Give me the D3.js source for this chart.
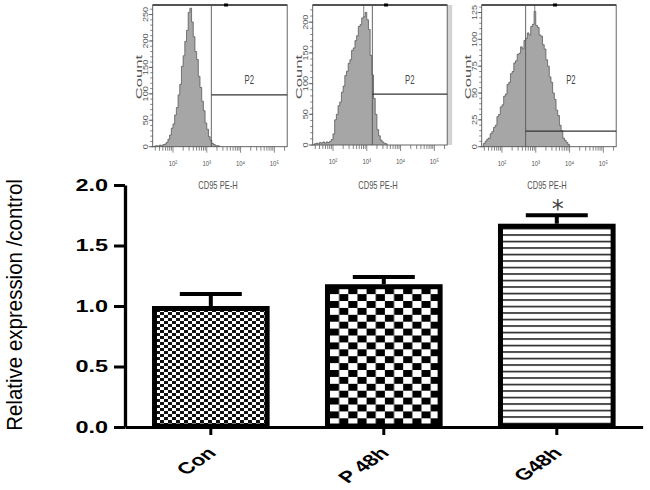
<!DOCTYPE html>
<html><head><meta charset="utf-8">
<script src="https://cdn.jsdelivr.net/npm/d3@7"></script>
<style>body{margin:0;background:#fff} svg{display:block}</style>
</head><body><svg id="c" width="650" height="490"></svg>
<script>
// ---------- bar chart data ----------
const categories = ["Con", "P 48h", "G48h"];
const means = [1.0, 1.18, 1.68];
const errors = [0.10, 0.06, 0.07];
const significance = ["", "", "*"];
const yTicks = [0, 0.5, 1.0, 1.5, 2.0];
const yLabel = "Relative expression /control";

// ---------- flow cytometry histograms (counts per 0.05-decade bin, starting at 10^1.4) ----------
const histStartLog = 1.4;
const histStepLog = 0.05;
const hist1 = [0,1,2,1,3,2,4,5,8,14,22,35,43,60,74,98,118,152,172,199,220,254,262,236,208,180,165,133,112,86,68,45,33,19,12,6,4,2,2,1,0];
const hist2 = [0,2,3,2,4,3,5,3,5,4,6,9,18,41,50,64,70,86,96,113,120,133,139,154,158,170,178,193,196,207,209,216,204,188,146,114,76,50,25,15,8,5,3,2,0];
const hist3 = [0,3,5,7,8,12,14,18,20,28,30,37,39,47,49,58,60,68,70,78,80,86,87,93,91,99,101,106,104,112,114,126,113,111,104,103,95,91,81,75,65,60,50,44,34,29,20,15,8,6,4,2,0];
const histYMax = [268, 228, 132];
const histYTicks = [[0,50,100,150,200,250],[0,50,100,150,200],[0,25,50,75,100,125]];
const histYMinor = [10, 10, 5];
const gateLog = [3.135, 3.165, 2.70];
const gateCount = [98, 83, 14.5];
const spikeLog = [null, 2.91, 2.97];
const markerLog = 3.57;
const xDecades = [2, 3, 4, 5];
const xDecadeLabels = ["10²", "10³", "10⁴", "10⁵"];
const histXLabel = "CD95 PE-H";
const histYLabel = "Count";
const gateName = "P2";

const FONT = "'Liberation Sans', Arial, Helvetica, sans-serif";
const svg = d3.select("#c");
svg.append("rect").attr("width", 650).attr("height", 490).attr("fill", "#fff");

// ---------- histograms ----------
const hists = [hist1, hist2, hist3];
const panelLayout = [
  {left: 152.7, bottom: 146.7, strip: false},
  {left: 312.7, bottom: 145.0, strip: true},
  {left: 481.7, bottom: 146.7, strip: false}
];
const panelTop = 5, panelW = 134.5;

hists.forEach((data, i) => {
  const L = panelLayout[i];
  const g = svg.append("g");
  const px = d3.scaleLog().domain([10 ** 1.4, 10 ** 5.38]).range([L.left, L.left + panelW]);
  const py = d3.scaleLinear().domain([0, histYMax[i]]).range([L.bottom, panelTop]);
  const pts = data.map((c, j) => [histStartLog + j * histStepLog, c]);

  if (L.strip) {
    g.append("rect").attr("x", L.left + panelW).attr("y", panelTop).attr("width", 5)
      .attr("height", L.bottom - panelTop).attr("fill", "#d4d4d4");
  }
  const area = d3.area().x(d => px(10 ** d[0])).y0(L.bottom).y1(d => py(d[1])).curve(d3.curveStepAfter);
  const line = d3.line().x(d => px(10 ** d[0])).y(d => py(d[1])).curve(d3.curveStepAfter);
  g.append("path").datum(pts).attr("d", area).attr("fill", "#a6a6a6");
  g.append("path").datum(pts).attr("d", line).attr("fill", "none").attr("stroke", "#4a4a4a").attr("stroke-width", 0.7);

  if (spikeLog[i] !== null) {
    const sx = px(10 ** spikeLog[i]);
    const idx = Math.round((spikeLog[i] - histStartLog) / histStepLog);
    g.append("line").attr("x1", sx).attr("x2", sx).attr("y1", panelTop).attr("y2", py(data[idx]))
      .attr("stroke", "#666").attr("stroke-width", 0.8);
  }

  // frame
  g.append("rect").attr("x", L.left).attr("y", panelTop).attr("width", panelW).attr("height", L.bottom - panelTop)
    .attr("fill", "none").attr("stroke", "#555").attr("stroke-width", 0.9);
  g.append("line").attr("x1", L.left).attr("x2", L.left + panelW).attr("y1", panelTop).attr("y2", panelTop)
    .attr("stroke", "#333").attr("stroke-width", 1.6);
  g.append("rect").attr("x", px(10 ** markerLog) - 2).attr("y", panelTop - 1.5).attr("width", 4).attr("height", 3).attr("fill", "#000");

  // gate
  const gx = px(10 ** gateLog[i]);
  g.append("line").attr("x1", gx).attr("x2", gx).attr("y1", panelTop).attr("y2", L.bottom)
    .attr("stroke", "#555").attr("stroke-width", 0.9);
  g.append("line").attr("x1", gx).attr("x2", L.left + panelW).attr("y1", py(gateCount[i])).attr("y2", py(gateCount[i]))
    .attr("stroke", "#333").attr("stroke-width", 1.3);
  g.append("text").attr("transform", `translate(${(gx + L.left + panelW) / 2},84) scale(0.62,1)`)
    .attr("text-anchor", "middle").attr("font-family", FONT).attr("font-size", 12.5).attr("fill", "#444")
    .text(gateName);

  // x axis log ticks
  const xt = [];
  for (let d = 1; d <= 5; d++) for (let m = 1; m <= 9; m++) {
    const v = m * 10 ** d;
    if (v >= 10 ** 1.4 && v <= 10 ** 5.38) xt.push({v, major: m === 1});
  }
  g.selectAll(null).data(xt).join("line")
    .attr("x1", d => px(d.v)).attr("x2", d => px(d.v))
    .attr("y1", L.bottom).attr("y2", d => L.bottom + (d.major ? 6 : 4))
    .attr("stroke", "#555").attr("stroke-width", 0.7);
  xDecades.forEach((d, k) => {
    g.append("text").attr("transform", `translate(${px(10 ** d)},${L.bottom + 19}) scale(0.75,1)`)
      .attr("text-anchor", "middle").attr("font-family", FONT).attr("fill", "#555").attr("font-size", 8)
      .text(xDecadeLabels[k]);
  });
  g.append("text").attr("transform", `translate(${L.left + panelW / 2 - 2},189) scale(0.72,1)`)
    .attr("text-anchor", "middle").attr("font-family", FONT).attr("font-size", 10.5).attr("fill", "#555")
    .text(histXLabel);

  // y axis ticks
  const yt = d3.range(0, histYMax[i] + 0.001, histYMinor[i]);
  g.selectAll(null).data(yt).join("line")
    .attr("x1", L.left - 2.5).attr("x2", L.left).attr("y1", d => py(d)).attr("y2", d => py(d))
    .attr("stroke", "#555").attr("stroke-width", 0.7);
  g.selectAll(null).data(histYTicks[i]).join("line")
    .attr("x1", L.left - 4).attr("x2", L.left).attr("y1", d => py(d)).attr("y2", d => py(d))
    .attr("stroke", "#555").attr("stroke-width", 0.8);
  g.selectAll(null).data(histYTicks[i]).join("text")
    .attr("transform", d => `translate(${L.left - 5},${py(d)}) rotate(-90) scale(1.3,1)`)
    .attr("text-anchor", "middle").attr("font-family", FONT).attr("font-size", 7).attr("fill", "#555")
    .text(d => d);
  g.append("text").attr("transform", `translate(${L.left - 11},${77}) rotate(-90) scale(1.75,1)`)
    .attr("text-anchor", "middle").attr("font-family", FONT).attr("font-size", 9.5).attr("fill", "#555")
    .text(histYLabel);
});

// ---------- bar chart ----------
const x0 = 125, x1 = 642.6, yTop = 185, yBot = 427;
const x = d3.scaleBand().domain(categories).range([x0, x1]).paddingInner(0.32).paddingOuter(0.156);
const y = d3.scaleLinear().domain([0, 2]).range([yBot, yTop]);
const bw = x.bandwidth();

const defs = svg.append("defs");
// fine checker
const p1 = defs.append("pattern").attr("id", "pCon").attr("patternUnits", "userSpaceOnUse")
  .attr("width", 8).attr("height", 6).attr("x", x("Con")).attr("y", y(means[0]));
p1.append("rect").attr("width", 8).attr("height", 6).attr("fill", "#fff");
p1.append("rect").attr("x", 0).attr("y", 0).attr("width", 4).attr("height", 3).attr("fill", "#111");
p1.append("rect").attr("x", 4).attr("y", 3).attr("width", 4).attr("height", 3).attr("fill", "#111");
// coarse checker
const p2 = defs.append("pattern").attr("id", "pP48").attr("patternUnits", "userSpaceOnUse")
  .attr("width", 18.3).attr("height", 13.8).attr("x", x("P 48h") + 5).attr("y", y(means[1]) + 3);
p2.append("rect").attr("width", 18.3).attr("height", 13.8).attr("fill", "#fff");
p2.append("rect").attr("x", 0).attr("y", 0).attr("width", 9.15).attr("height", 6.9).attr("fill", "#000");
p2.append("rect").attr("x", 9.15).attr("y", 6.9).attr("width", 9.15).attr("height", 6.9).attr("fill", "#000");
// horizontal lines
const p3 = defs.append("pattern").attr("id", "pG48").attr("patternUnits", "userSpaceOnUse")
  .attr("width", 10).attr("height", 6.5).attr("x", 0).attr("y", y(means[2]) + 4);
p3.append("rect").attr("width", 10).attr("height", 6.5).attr("fill", "#fff");
p3.append("rect").attr("x", 0).attr("y", 0).attr("width", 10).attr("height", 1.6).attr("fill", "#222");
const patIds = ["pCon", "pP48", "pG48"];

const bars = svg.append("g");
categories.forEach((c, i) => {
  bars.append("rect")
    .attr("x", x(c) + 2.5).attr("y", y(means[i]) + 2.5)
    .attr("width", bw - 5).attr("height", yBot - y(means[i]) - 3.5)
    .attr("fill", `url(#${patIds[i]})`).attr("stroke", "#000").attr("stroke-width", 5);
  const cx = x(c) + bw / 2;
  bars.append("line").attr("x1", cx).attr("x2", cx).attr("y1", y(means[i])).attr("y2", y(means[i] + errors[i]))
    .attr("stroke", "#000").attr("stroke-width", 4);
  bars.append("line").attr("x1", cx - 31).attr("x2", cx + 31)
    .attr("y1", y(means[i] + errors[i])).attr("y2", y(means[i] + errors[i]))
    .attr("stroke", "#000").attr("stroke-width", 4);
  if (significance[i]) {
    bars.append("text").attr("x", cx + 1).attr("y", y(means[i] + errors[i]) + 2)
      .attr("text-anchor", "middle").attr("font-family", "'DejaVu Sans', sans-serif").attr("font-weight", "normal")
      .attr("font-size", 24).attr("fill", "#444")
      .text(significance[i]);
  }
});

// y axis
const gy = svg.append("g").attr("transform", `translate(${x0},0)`)
  .call(d3.axisLeft(y).tickValues(yTicks).tickFormat(d3.format(".1f")).tickSize(11).tickSizeOuter(0));
gy.select(".domain").attr("stroke", "#000").attr("stroke-width", 3.3);
gy.selectAll(".tick line").attr("stroke", "#000").attr("stroke-width", 3);
gy.selectAll(".tick text").attr("x", 0).attr("transform", "translate(-17,0) scale(1.42,1)")
  .attr("font-family", FONT).attr("font-weight", "bold").attr("font-size", 16.5).attr("fill", "#000");

// x axis
const gx = svg.append("g").attr("transform", `translate(0,${yBot})`)
  .call(d3.axisBottom(x).tickSize(8).tickSizeOuter(0).tickFormat(""));
gx.select(".domain").attr("stroke", "#000").attr("stroke-width", 3);
gx.selectAll(".tick line").attr("stroke", "#000").attr("stroke-width", 3);
categories.forEach(c => {
  svg.append("text")
    .attr("transform", `translate(${x(c) + bw / 2 + 6.5},454) scale(1.42,1) rotate(-45)`)
    .attr("text-anchor", "end").attr("font-family", FONT).attr("font-weight", "bold").attr("font-size", 16)
    .attr("fill", "#000").text(c);
});

// y label
svg.append("text").attr("transform", "translate(22,305) rotate(-90) scale(1,1.12)")
  .attr("text-anchor", "middle").attr("font-family", FONT).attr("font-size", 20.5).attr("fill", "#000")
  .text(yLabel);
</script>
</body></html>
